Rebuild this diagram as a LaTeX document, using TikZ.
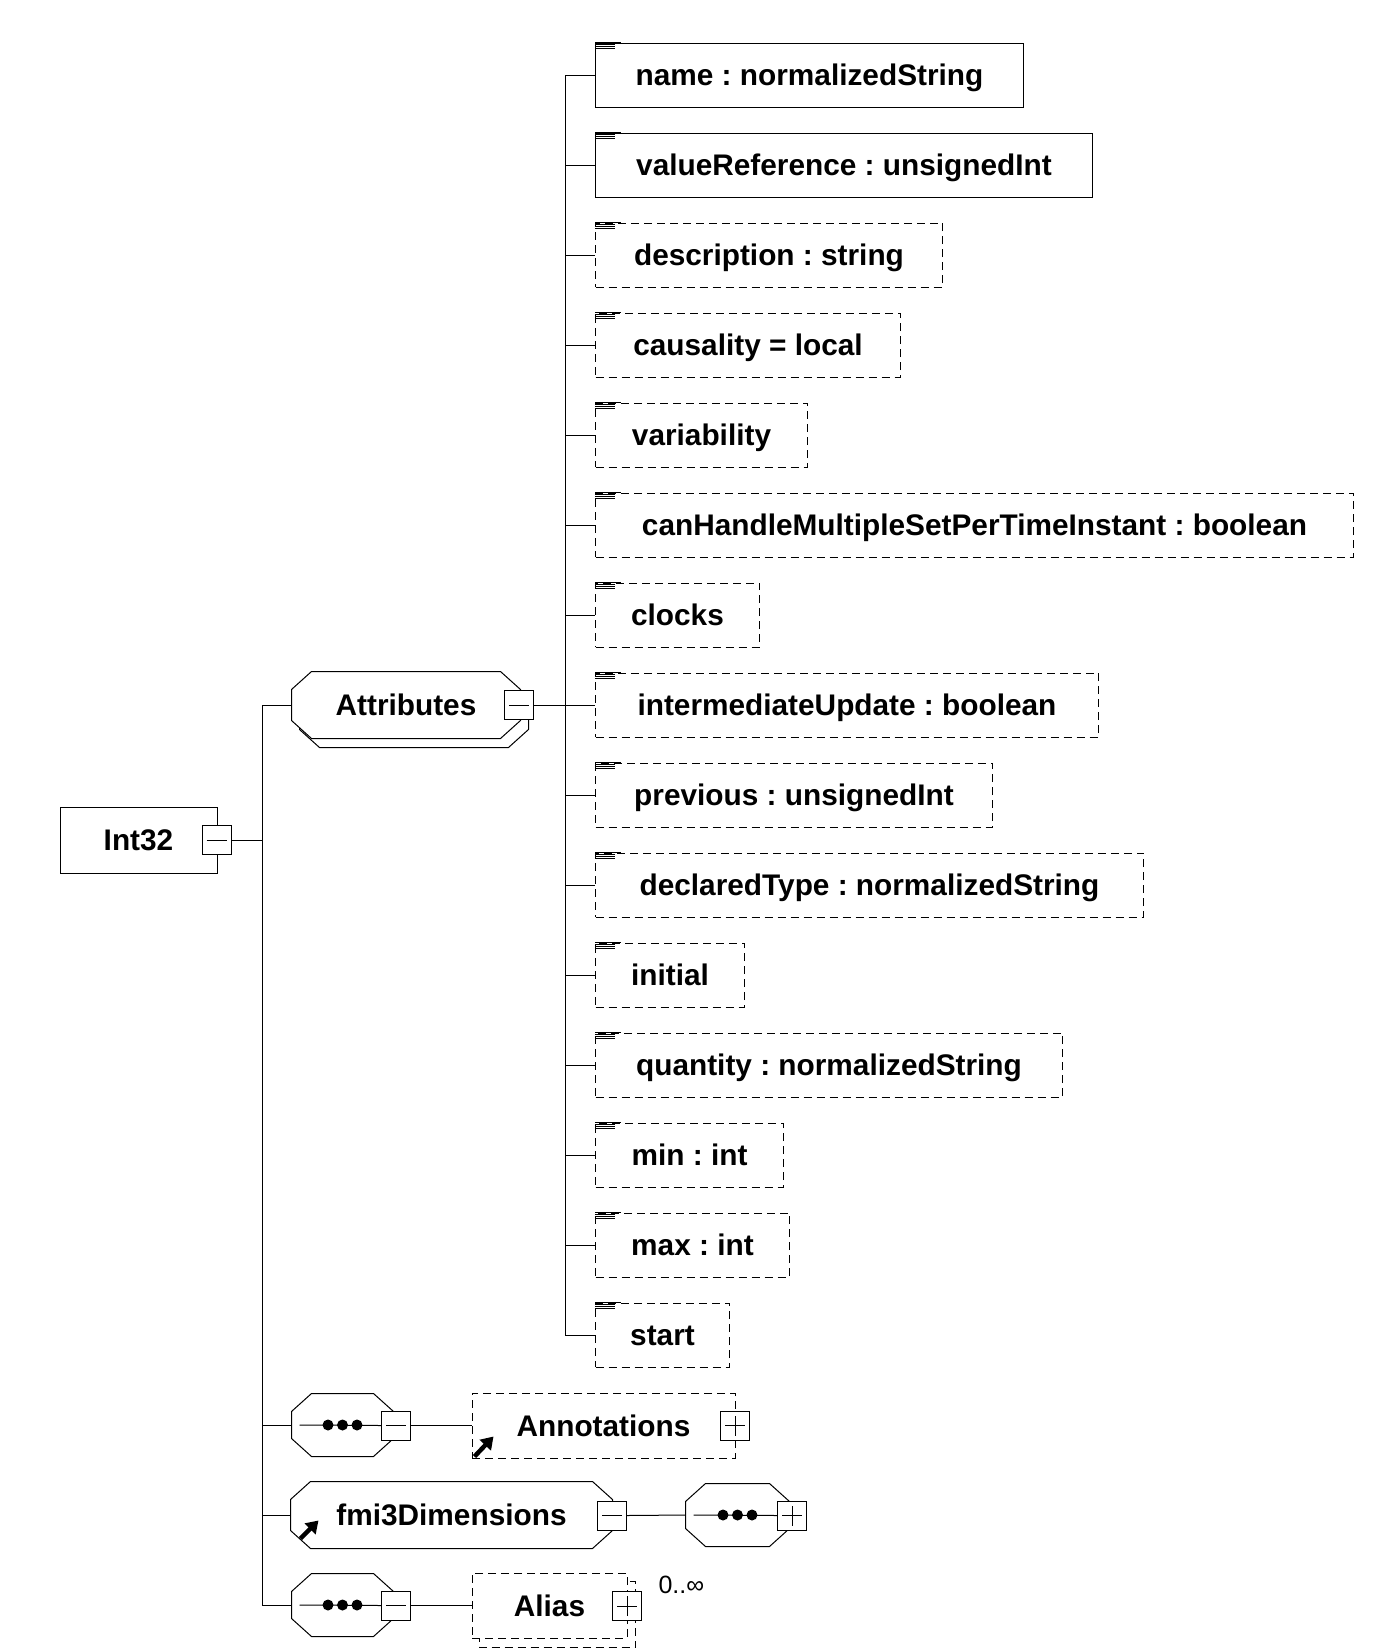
\documentclass[tikz,border=0pt]{standalone}
\usepackage{fontspec}
\setmainfont{Liberation Sans}
\usetikzlibrary{arrows.meta,backgrounds}
\frenchspacing

\tikzset{
  lbl/.style={font=\bfseries\fontsize{29.8pt}{34pt}\selectfont, text height=21pt, text depth=0pt, inner sep=0pt},
  box/.style={draw, lbl, fill=white},
  optbox/.style={box, dash pattern=on 8pt off 5pt},
  tog/.style={draw, fill=white, minimum size=29pt, inner sep=0pt},
  minus/.style={tog, path picture={\draw ([xshift=-10pt]path picture bounding box.center) -- ([xshift=10pt]path picture bounding box.center);}},
  plus/.style={tog, path picture={\draw ([xshift=-10pt]path picture bounding box.center) -- ([xshift=10pt]path picture bounding box.center) ([yshift=-10pt]path picture bounding box.center) -- ([yshift=10pt]path picture bounding box.center);}},
  refarrow/.style={line width=4.5pt, -{Triangle[length=12pt,width=15pt]}},
  seqbox/.style={minimum width=103pt, minimum height=62pt, inner sep=0pt}
}

\newcommand{\octa}[3]{%
  \draw[line width=1pt, fill=white] ([shift={(#2+20,#3)}]#1.north west) -- ([shift={(#2-20,#3)}]#1.north east)
    -- ([shift={(#2,#3+18)}]#1.north east) -- ([shift={(#2,#3-18)}]#1.south east)
    -- ([shift={(#2-20,#3)}]#1.south east) -- ([shift={(#2+20,#3)}]#1.south west)
    -- ([shift={(#2,#3-18)}]#1.south west) -- ([shift={(#2,#3+18)}]#1.north west) -- cycle;}

\begin{document}
\begin{tikzpicture}[x=1pt,y=-1pt,line width=1pt]
\useasboundingbox (0,0) rectangle (1383,1650);
\coordinate (ltrunk) at (262,0);
\coordinate (atrunk) at (565,0);

\node[box, minimum width=157pt, minimum height=66pt] (int32) at (138.5,840) {Int32};
\node[minus] (int32m) at (216.5,840) {};

\node[lbl, minimum width=228pt, minimum height=66pt] (attrs) at (406,705) {Attributes};
\node[minus] (attrsm) at (519,705) {};

\foreach \txt/\w/\sty [count=\i] in {name : normalizedString/428/box,
  valueReference : unsignedInt/497/box, description : string/347/optbox,
  causality = local/305/optbox, variability/212/optbox,
  canHandleMultipleSetPerTimeInstant : boolean/758/optbox, clocks/164/optbox,
  intermediateUpdate : boolean/503/optbox, previous : unsignedInt/397/optbox,
  declaredType : normalizedString/548/optbox, initial/149/optbox,
  quantity : normalizedString/467/optbox, min : int/188/optbox,
  max : int/194/optbox, start/134/optbox}
{
  \node[\sty, anchor=west, minimum width={\w*1pt}, minimum height=64pt] (attr\i) at (595,{75+90*(\i-1)}) {\txt};
  \draw (attr\i.west) -- (attr\i.west -| atrunk);
  \draw (attr\i.north west) -- ++(26,0);
  \foreach \d in {1.8,3.6,5.4}
    \draw[line width=0.8pt] ([shift={(0,\d)}]attr\i.north west) -- ++(20,0);
}

\node[seqbox, minimum width=101pt] (seq1) at (342.5,1425) {};
\node[minus] (seq1t) at (396,1425.5) {};
\node[optbox, minimum width=263pt, minimum height=65pt] (annot) at (603.5,1425.5) {Annotations};
\node[plus] (annott) at (735,1425.5) {};

\node[lbl, minimum width=321pt, minimum height=66pt] (fmi) at (451.5,1515) {fmi3Dimensions};
\node[minus] (fmit) at (612,1515.5) {};
\node[seqbox] (seq2) at (737.5,1515) {};
\node[plus] (seq2t) at (792,1515.5) {};

\node[seqbox, minimum width=101pt] (seq3) at (342.5,1605) {};
\node[minus] (seq3t) at (396,1605.5) {};
\node[optbox, minimum width=155pt, minimum height=65pt] (alias) at (549.5,1605.5) {Alias};
\node[plus] (aliast) at (627,1606) {};
\node[right, font=\fontsize{25pt}{28pt}\selectfont, inner sep=0pt] (aliascard) at (658,1585) {0..∞};

\begin{scope}[on background layer]
\octa{attrs}{8}{9}
\octa{attrs}{0}{0}
\octa{fmi}{0}{0}
\octa{seq1}{0}{0}
\octa{seq2}{0}{0}
\octa{seq3}{0}{0}
\draw[line width=1pt, dash pattern=on 8pt off 5pt, fill=white] ([shift={(8,9)}]alias.north west) rectangle ([shift={(8,9)}]alias.south east);
\end{scope}

\foreach \n in {seq1,seq2,seq3}
{
  \draw ([xshift=8pt]\n.west) -- (\n t.west);
  \foreach \k in {-1,0,1}
    \fill ([xshift=\k*14.5pt]\n.center) circle (5.5);
}

\draw[refarrow] ([shift={(3,-2)}]annot.south west) -- ++(19,-20);
\draw[refarrow] ([shift={(10,-10)}]fmi.south west) -- ++(18,-18);

\draw (int32m.east) -- (int32m.east -| ltrunk);
\draw (attrs.west -| ltrunk) -- (seq3.west -| ltrunk);
\draw (attrs.west -| ltrunk) -- (attrs.west);
\draw (seq1.west -| ltrunk) -- (seq1.west);
\draw (fmi.west -| ltrunk) -- (fmi.west);
\draw (seq3.west -| ltrunk) -- (seq3.west);
\draw (attrsm.east) -- (attrsm.east -| atrunk);
\draw (attr1.west -| atrunk) -- (attr15.west -| atrunk);
\draw (seq1t.east) -- (annot.west);
\draw (fmit.east) -- (seq2.west);
\draw (seq3t.east) -- (alias.west);
\end{tikzpicture}
\end{document}
